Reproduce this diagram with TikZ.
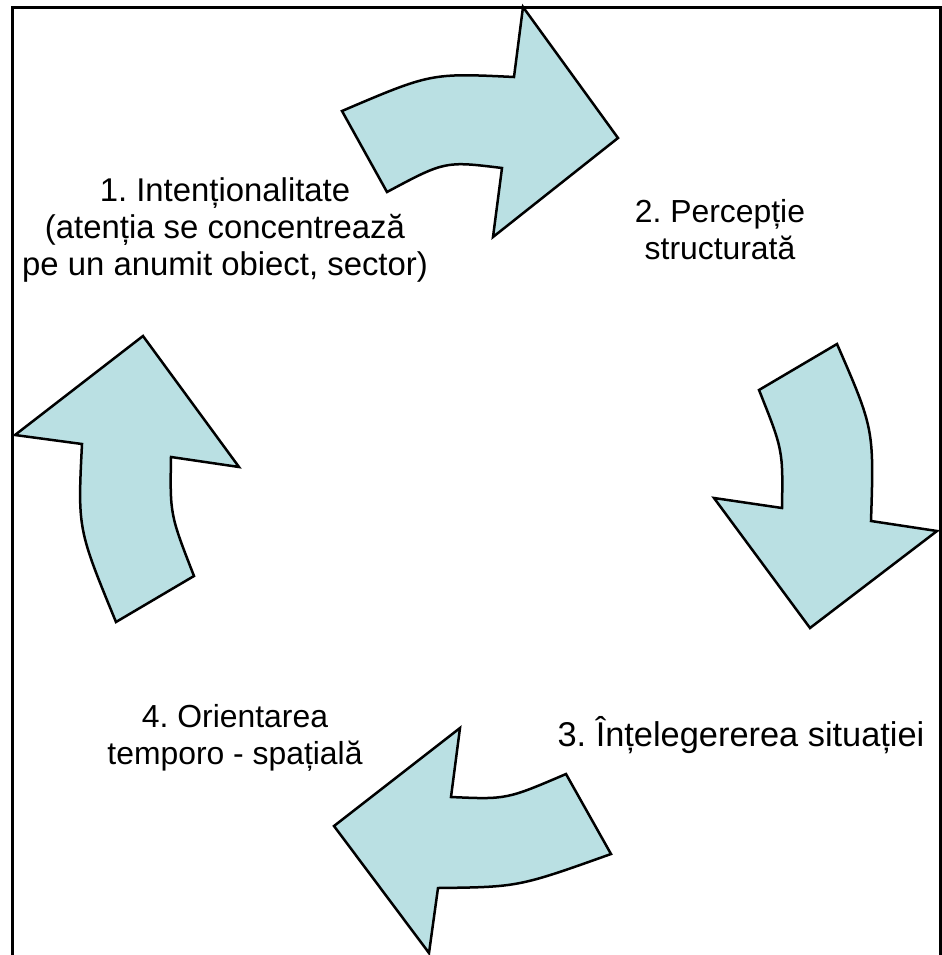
\documentclass[tikz,border=0pt]{standalone}
\usepackage{fontspec}
\setmainfont{Liberation Sans}
\frenchspacing
\definecolor{arrowfill}{RGB}{186,224,227}
\begin{document}
\begin{tikzpicture}[x=1bp,y=-1bp,
  cyclearrow/.style={fill=arrowfill, draw=black, line width=2.5bp, line join=miter},
  txt/.style={font=\fontsize{32}{37}\selectfont, align=center, inner sep=0pt, anchor=base}]
\useasboundingbox (0,0) rectangle (942,955);
\clip (0,0) rectangle (942,955);
\draw[line width=3bp] (12,975) -- (12,7) -- (940,7) -- (940,975);
% arrow 1 (top, pointing right)
\path[cyclearrow] (342,111) .. controls (431,73) .. (514,77) -- (523,7) -- (618,138) -- (493,237) -- (502,168) .. controls (445,161) .. (387,192) -- cycle;
% arrow 2 (right, pointing down)
\path[cyclearrow] (759,390) -- (837,344) .. controls (874,429) .. (871,521) -- (937,531) -- (810,628) -- (714,498) -- (782,508) .. controls (783,450) .. (759,390) -- cycle;
% arrow 3 (bottom, pointing left)
\path[cyclearrow] (566,774) -- (611,854) .. controls (518.5,887) .. (438,888) -- (429,953) -- (334,826) -- (460,728) -- (451,797) .. controls (506.5,799.5) .. (566,774) -- cycle;
% arrow 4 (left, pointing up)
\path[cyclearrow] (116,622) -- (194,576) .. controls (170,514.5) .. (171,457) -- (239,467) -- (143,336) -- (15,435) -- (82,444) .. controls (77.7,529) .. (116,622) -- cycle;
% texts (anchor base = baseline of the last line)
\node[txt, font=\fontsize{33}{37}\selectfont] (t1) at (225,275) {1. Intenționalitate\\(atenția se concentrează\\pe un anumit obiect, sector)};
\node[txt] (t2) at (720,259) {2. Percepție\\structurată};
\node[txt, font=\fontsize{34.5}{37}\selectfont] (t3) at (741,746) {3. Înțelegererea situației};
\node[txt] (t4) at (235,764) {4. Orientarea\\temporo - spațială};
\end{tikzpicture}
\end{document}
